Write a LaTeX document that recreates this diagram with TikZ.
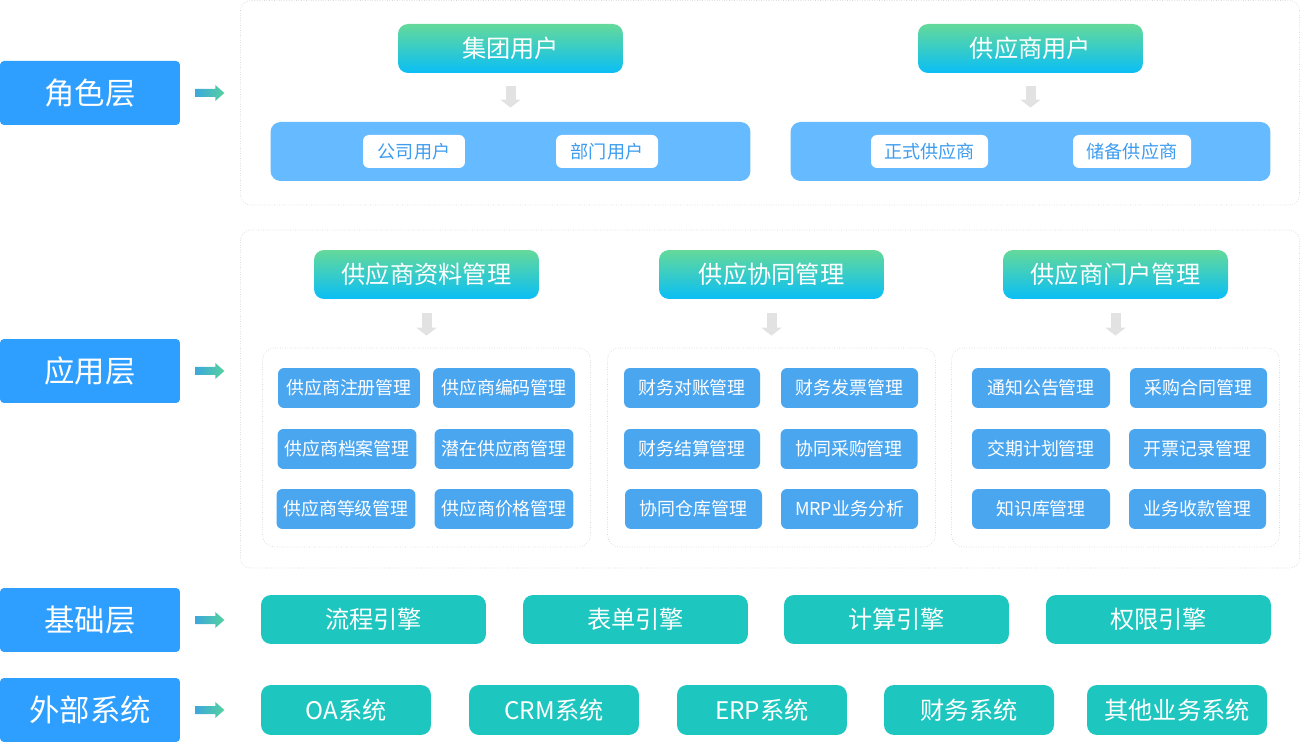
\documentclass[tikz,border=0pt]{standalone}
\usepackage{fontspec}
\setmainfont{Noto Sans CJK SC}
\usetikzlibrary{arrows.meta,positioning}
\definecolor{lyblue}{HTML}{2E9FFF}
\definecolor{hdgreen}{HTML}{64D99A}
\definecolor{hdblue}{HTML}{0ABEF6}
\definecolor{panelblue}{HTML}{66BAFF}
\definecolor{pilltext}{HTML}{3C9CF0}
\definecolor{subblue}{HTML}{4BA6F0}
\definecolor{baseteal}{HTML}{1DC6BF}
\definecolor{arrgray}{HTML}{E2E2E2}
\definecolor{framegray}{HTML}{D6D6D6}
\definecolor{raleft}{HTML}{3DA8DC}
\definecolor{raright}{HTML}{55D19E}

\begin{document}
\begin{tikzpicture}[
  x=0.02cm,y=-0.02cm,
  every node/.style={text=white,inner sep=0pt},
  layerbox/.style={fill=lyblue,rounded corners=0.08cm,minimum width=3.6cm,minimum height=1.28cm,font=\fontsize{17.3}{19}\selectfont},
  headnode/.style={top color=hdgreen,bottom color=hdblue,rounded corners=0.2cm,minimum width=4.5cm,minimum height=0.98cm,font=\fontsize{13.8}{15}\selectfont},
  panel/.style={fill=panelblue,rounded corners=0.2cm,minimum width=9.6cm,minimum height=1.18cm},
  pillnode/.style={fill=white,text=pilltext,rounded corners=0.12cm,minimum width=2.04cm,minimum height=0.66cm,font=\fontsize{10.3}{11}\selectfont},
  group/.style={draw=framegray,densely dotted,rounded corners=0.24cm,minimum width=6.56cm,minimum height=3.98cm},
  subnode/.style={fill=subblue,rounded corners=0.12cm,minimum width=2.78cm,minimum height=0.8cm,font=\fontsize{10.2}{11}\selectfont},
  basenode/.style={fill=baseteal,rounded corners=0.2cm,minimum width=4.5cm,minimum height=0.98cm,font=\fontsize{13.8}{15}\selectfont},
  extnode/.style={basenode,minimum width=3.4cm,minimum height=1cm},
  frame/.style={draw=framegray,densely dotted,rounded corners=0.2cm},
  downarr/.style={draw=arrgray,line width=0.2cm,shorten <=0.26cm,shorten >=0.28cm,-{Triangle[width=0.4cm,length=0.16cm]}},
  rarrow/.pic={\shade[left color=raleft,right color=raright] (0,-4) -- (20,-4) -- (20,-8) -- (29,0) -- (20,8) -- (20,4) -- (0,4) -- cycle;}
]
\useasboundingbox (0,0) rectangle (1300,742);
% outer frames
\draw[frame] (240.5,0.5) rectangle (1299.5,205);
\draw[frame] (240.5,230) rectangle (1299.5,568);

% layer labels
\node[layerbox] (l1) at (90,93) {角色层};
\node[layerbox] (l2) at (90,371) {应用层};
\node[layerbox] (l3) at (90,620) {基础层};
\node[layerbox] (l4) at (90,710) {外部系统};
\pic at ([xshift=0.3cm]l1.east) {rarrow};
\pic at ([xshift=0.3cm]l2.east) {rarrow};
\pic at ([xshift=0.3cm]l3.east) {rarrow};
\pic at ([xshift=0.3cm]l4.east) {rarrow};

% role layer
\node[headnode] (h1) at (510.5,48.5) {集团用户};
\node[headnode] (h2) at (1030.5,48.5) {供应商用户};
\node[panel] (p1) at (510.5,151.5) {};
\node[panel] (p2) at (1030.5,151.5) {};
\node[pillnode] (u1) at (414,151.5) {公司用户};
\node[pillnode] (u2) at (607,151.5) {部门用户};
\node[pillnode,minimum width=2.34cm] (u3) at (929.5,151.5) {正式供应商};
\node[pillnode,minimum width=2.36cm] (u4) at (1132,151.5) {储备供应商};
\draw[downarr] (h1) -- (p1);
\draw[downarr] (h2) -- (p2);

% application layer
\node[headnode] (a1) at (426.5,274.5) {供应商资料管理};
\node[headnode] (a2) at (771.5,274.5) {供应协同管理};
\node[headnode] (a3) at (1115.5,274.5) {供应商门户管理};
\node[group] (g1) at (426.5,447.5) {};
\node[group] (g2) at (771.5,447.5) {};
\node[group] (g3) at (1115.5,447.5) {};
\draw[downarr,shorten <=0.28cm,shorten >=0.24cm] (a1) -- (g1);
\draw[downarr,shorten <=0.28cm,shorten >=0.24cm] (a2) -- (g2);
\draw[downarr,shorten <=0.28cm,shorten >=0.24cm] (a3) -- (g3);
% supplier data
\node[subnode,minimum width=2.84cm] (s11) at (349,388) {供应商注册管理};
\node[subnode,minimum width=2.84cm] (s12) at (504,388) {供应商编码管理};
\node[subnode] (s21) at (347,449) {供应商档案管理};
\node[subnode] (s22) at (504,449) {潜在供应商管理};
\node[subnode] (s31) at (346,509) {供应商等级管理};
\node[subnode] (s32) at (504,509) {供应商价格管理};
% collaboration
\node[subnode,minimum width=2.72cm] (c11) at (692,388) {财务对账管理};
\node[subnode,minimum width=2.74cm] (c12) at (849.5,388) {财务发票管理};
\node[subnode,minimum width=2.72cm] (c21) at (692,449) {财务结算管理};
\node[subnode,minimum width=2.74cm] (c22) at (849,449) {协同采购管理};
\node[subnode,minimum width=2.74cm] (c31) at (693.5,509) {协同仓库管理};
\node[subnode,minimum width=2.74cm] (c32) at (849.5,509) {MRP业务分析};
% portal
\node[subnode,minimum width=2.76cm] (m11) at (1041,388) {通知公告管理};
\node[subnode,minimum width=2.74cm] (m12) at (1198.5,388) {采购合同管理};
\node[subnode,minimum width=2.76cm] (m21) at (1041,449) {交期计划管理};
\node[subnode,minimum width=2.74cm] (m22) at (1197.5,449) {开票记录管理};
\node[subnode,minimum width=2.76cm] (m31) at (1041,509) {知识库管理};
\node[subnode,minimum width=2.74cm] (m32) at (1197.5,509) {业务收款管理};

% base layer
\node[basenode] (b1) at (373.5,619.5) {流程引擎};
\node[basenode] (b2) at (635.5,619.5) {表单引擎};
\node[basenode] (b3) at (896.5,619.5) {计算引擎};
\node[basenode] (b4) at (1158.5,619.5) {权限引擎};

% external systems
\node[extnode] (e1) at (346,710) {OA系统};
\node[extnode] (e2) at (554,710) {CRM系统};
\node[extnode] (e3) at (762,710) {ERP系统};
\node[extnode] (e4) at (969,710) {财务系统};
\node[extnode,minimum width=3.6cm] (e5) at (1177,710) {其他业务系统};
\end{tikzpicture}
\end{document}
